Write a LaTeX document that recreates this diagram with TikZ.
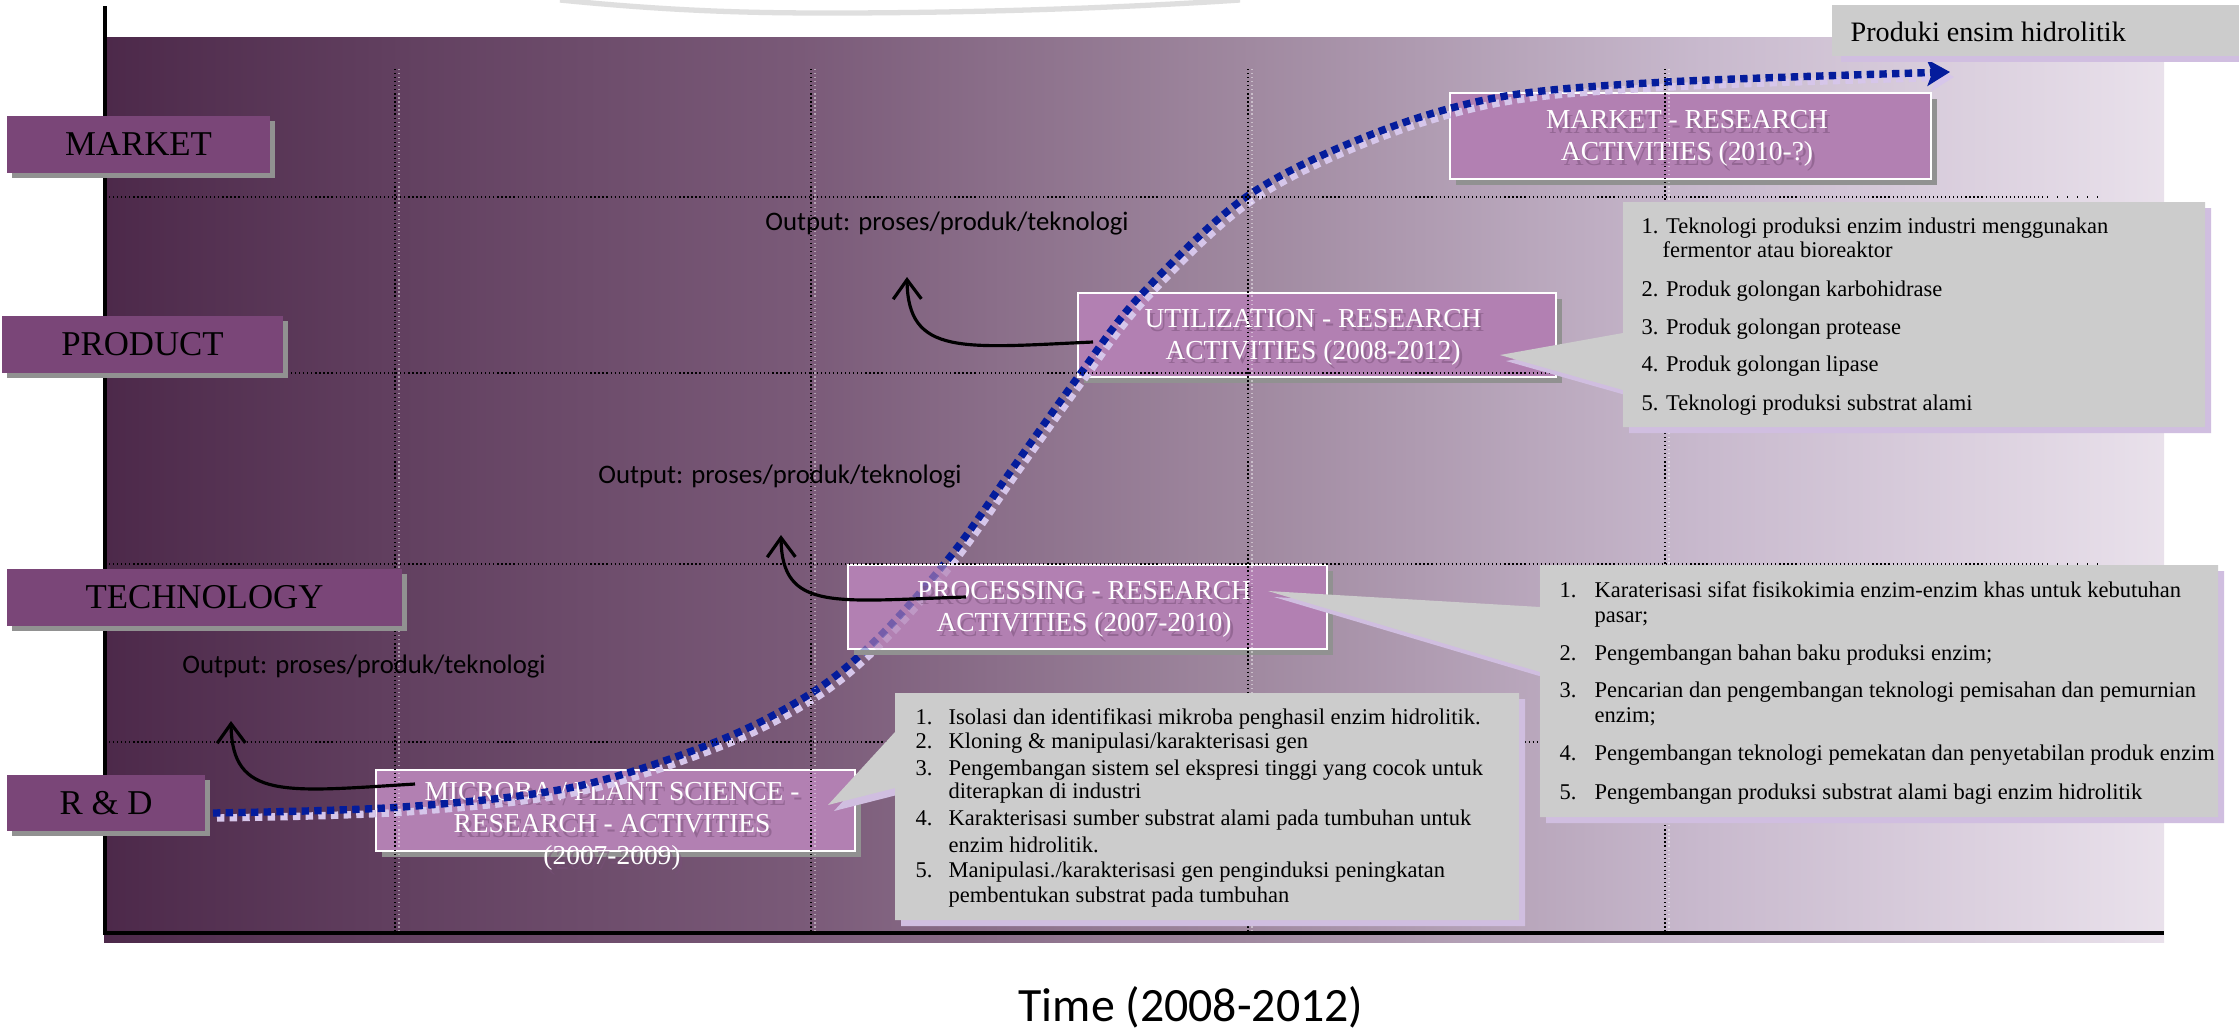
\documentclass[tikz,border=0pt]{standalone}
\usepackage{fontspec}
\setmainfont{Liberation Serif}
\newfontfamily\calib{Carlito}
\usetikzlibrary{arrows.meta,shadows}
\definecolor{labfill}{RGB}{122,70,120}
\definecolor{actfill}{RGB}{178,128,178}
\definecolor{callgray}{RGB}{204,204,204}
\definecolor{lavshadow}{RGB}{208,190,224}
\definecolor{boxshadow}{RGB}{145,145,145}
\definecolor{curveblue}{RGB}{4,28,156}
\definecolor{curveshadow}{RGB}{214,198,234}
\definecolor{ghost}{RGB}{120,80,120}
\pgfdeclarehorizontalshading{bgshade}{100bp}{rgb(0bp)=(0.30,0.16,0.29); rgb(25bp)=(0.30,0.16,0.29); rgb(32.2bp)=(0.384,0.251,0.376); rgb(41.9bp)=(0.478,0.353,0.471); rgb(52.8bp)=(0.627,0.537,0.627); rgb(63.75bp)=(0.784,0.725,0.804); rgb(75bp)=(0.914,0.882,0.922); rgb(100bp)=(0.914,0.882,0.922)}
\newcommand\mycurve{plot[smooth,tension=0.55] coordinates {(213,813) (402,807) (574,787) (718,741) (813,692) (880,636) (953,553) (1015,465) (1078,377) (1139,297) (1246,197) (1370,135) (1500,97) (1666,82) (1950,72)}}
\newcommand\mycallout[8]{%
 \begin{scope}[shift={(6,6)}]\fill[lavshadow] (#1,#2) -- (#3,#2) -- (#3,#4) -- (#1,#4) -- (#1,#6) -- (#7,#8) -- (#1,#5) -- cycle;\end{scope}
 \fill[callgray] (#1,#2) -- (#3,#2) -- (#3,#4) -- (#1,#4) -- (#1,#6) -- (#7,#8) -- (#1,#5) -- cycle;}
\begin{document}
\begin{tikzpicture}[x=0.01cm,y=-0.01cm,
 lab/.style={fill=labfill,inner sep=0pt,text=black,font=\fontsize{9.9pt}{11pt}\selectfont,drop shadow={shadow xshift=0.05cm,shadow yshift=-0.05cm,fill=boxshadow,opacity=1}},
 act/.style={fill=actfill,draw=white,line width=0.6pt,inner sep=0pt,drop shadow={shadow xshift=0.06cm,shadow yshift=-0.06cm,fill=boxshadow,opacity=1}},
 acttext/.style={text=white,align=center,inner sep=0pt,font=\fontsize{7.8pt}{9.1pt}\selectfont},
 actghost/.style={acttext,text=ghost,text opacity=0.5},
 gridl/.style={black,line width=0.35pt,dash pattern=on 0.35pt off 0.8pt},
 gridw/.style={white,opacity=0.45,line width=0.35pt,dash pattern=on 0.35pt off 0.8pt},
 outt/.style={inner sep=0pt,text=black,font=\calib\fontsize{7.6pt}{9pt}\selectfont},
 outarrow/.style={black,line width=0.9pt,-{Straight Barb[length=5.5pt,width=8pt]}},
 ct/.style={anchor=base west,inner sep=0pt,text=black,font=\fontsize{6.4pt}{7.7pt}\selectfont},
 curvemain/.style={curveblue,line width=2.1pt,dash pattern=on 2.1pt off 1.5pt,-{Stealth[length=6.5pt,width=7.5pt,inset=1.5pt]}},
 curveshad/.style={curveshadow,line width=2.1pt,dash pattern=on 2.1pt off 1.5pt,-{Stealth[length=6.5pt,width=7.5pt,inset=1.5pt]}}
]
\useasboundingbox (0,0) rectangle (2239,1033);
\fill[white] (0,0) rectangle (2239,1033);
% faint arc at top
\draw[gray!25,line width=1.5pt] (560,0) .. controls (680,12) and (760,13) .. (830,13) .. controls (1000,13) and (1150,6) .. (1240,0);
% background
\shade[shading=bgshade] (104,37) rectangle (2164,942);
% activity boxes under the curve
\node[act,minimum width=4.79cm,minimum height=0.81cm] (mic) at (615.5,810.5) {};
\node[act,minimum width=4.78cm,minimum height=0.84cm] (util) at (1317,335) {};
\node[act,minimum width=4.81cm,minimum height=0.86cm] (mkt) at (1690.5,136) {};
\node[actghost] at (615,831) {MICROBA / PLANT SCIENCE -\\RESEARCH - ACTIVITIES\\(2007-2009)};
\node[acttext] (mict) at (612,826) {MICROBA / PLANT SCIENCE -\\RESEARCH - ACTIVITIES\\(2007-2009)};
\node[actghost] at (1316,341) {UTILIZATION - RESEARCH\\ACTIVITIES (2008-2012)};
\node[acttext] (utilt) at (1313,337) {UTILIZATION - RESEARCH\\ACTIVITIES (2008-2012)};
\node[actghost] at (1690,143) {MARKET - RESEARCH\\ACTIVITIES (2010-?)};
\node[acttext] (mktt) at (1687,138) {MARKET - RESEARCH\\ACTIVITIES (2010-?)};
% S-curve
\begin{scope}[shift={(4,5)}]\draw[curveshad] \mycurve;\end{scope}
\draw[curvemain] \mycurve;
% processing box over the curve
\node[act,minimum width=4.79cm,minimum height=0.84cm] (proc) at (1087.5,607) {};
\begin{scope}
\clip (848,565) rectangle (1327,649);
\begin{scope}[shift={(4,5)}]\draw[curveshad,opacity=0.35] \mycurve;\end{scope}
\draw[curvemain,opacity=0.35] \mycurve;
\end{scope}
\node[actghost] at (1087,614) {PROCESSING - RESEARCH\\ACTIVITIES (2007-2010)};
\node[acttext] (proct) at (1084,609) {PROCESSING - RESEARCH\\ACTIVITIES (2007-2010)};
% grid
\foreach \gx in {395,811,1248,1665} {
 \draw[gridw] (\gx+4,69) -- (\gx+4,933);
 \draw[gridl] (\gx,69) -- (\gx,933);}
\foreach \gy in {197,373,564,742} {
 \draw[gridl] (105,\gy) -- (2044,\gy);
 \draw[black,line width=0.35pt,dash pattern=on 0.35pt off 2.5pt] (2047,\gy) -- (2104,\gy);}
% axes
\draw[black,line width=1pt] (105,6) -- (105,933) -- (2164,933);
% level labels
\node[lab,minimum width=2.63cm,minimum height=0.57cm] (lmkt) at (138.5,144.5) {MARKET};
\node[lab,minimum width=2.81cm,minimum height=0.57cm] (lprod) at (142.5,344.5) {PRODUCT};
\node[lab,minimum width=3.95cm,minimum height=0.57cm] (ltech) at (204.5,597.5) {TECHNOLOGY};
\node[lab,minimum width=1.98cm,minimum height=0.56cm] (lrd) at (106,803) {R \& D};
% output texts
\node[outt] (o1) at (364,667) {Output: proses/produk/teknologi};
\node[outt] (o2) at (780,477) {Output: proses/produk/teknologi};
\node[outt] (o3) at (947,224) {Output: proses/produk/teknologi};
% output arrows
\coordinate (a1s) at (415,784); \coordinate (a1e) at (231,721);
\coordinate (a2s) at (966,597); \coordinate (a2e) at (781,535);
\coordinate (a3s) at (1093,342); \coordinate (a3e) at (907,277);
\draw[outarrow] (a1s) .. controls (285,792) and (232,800) .. (a1e);
\draw[outarrow] (a2s) .. controls (835,601) and (782,612) .. (a2e);
\draw[outarrow] (a3s) .. controls (962,348) and (908,356) .. (a3e);
% callouts
\mycallout{895}{693}{1519}{920}{732}{788}{828}{805}
\mycallout{1540}{565}{2218}{817}{607}{672}{1268}{591}
\mycallout{1623}{202}{2205}{427}{333}{390}{1500}{355}
% list 1
\node[ct] at (915,724) {1.}; \node[ct] (l11) at (948,724) {Isolasi dan identifikasi mikroba penghasil enzim hidrolitik.};
\node[ct] at (915,748) {2.}; \node[ct] (l12) at (948,748) {Kloning \& manipulasi/karakterisasi gen};
\node[ct] at (915,775) {3.}; \node[ct] (l13) at (948,775) {Pengembangan sistem sel ekspresi tinggi yang cocok untuk};
\node[ct] at (948,798) {diterapkan di industri};
\node[ct] at (915,825) {4.}; \node[ct] (l14) at (948,825) {Karakterisasi sumber substrat alami pada tumbuhan untuk};
\node[ct] at (948,852) {enzim hidrolitik.};
\node[ct] at (915,877) {5.}; \node[ct] (l15) at (948,877) {Manipulasi./karakterisasi gen penginduksi peningkatan};
\node[ct] at (948,902) {pembentukan substrat pada tumbuhan};
% list 2
\node[ct] at (1559,597) {1.}; \node[ct] (l21) at (1594,597) {Karaterisasi sifat fisikokimia enzim-enzim khas untuk kebutuhan};
\node[ct] at (1594,622) {pasar;};
\node[ct] at (1559,660) {2.}; \node[ct] (l22) at (1594,660) {Pengembangan bahan baku produksi enzim;};
\node[ct] at (1559,697) {3.}; \node[ct] (l23) at (1594,697) {Pencarian dan pengembangan teknologi pemisahan dan pemurnian};
\node[ct] at (1594,722) {enzim;};
\node[ct] at (1559,760) {4.}; \node[ct] (l24) at (1594,760) {Pengembangan teknologi pemekatan dan penyetabilan produk enzim};
\node[ct] at (1559,799) {5.}; \node[ct] (l25) at (1594,799) {Pengembangan produksi substrat alami bagi enzim hidrolitik};
% list 3
\node[ct] (l31) at (1641,233) {1. Teknologi produksi enzim industri menggunakan};
\node[ct] at (1662,257) {fermentor atau bioreaktor};
\node[ct] (l32) at (1641,296) {2. Produk golongan karbohidrase};
\node[ct] (l33) at (1641,334) {3. Produk golongan protease};
\node[ct] (l34) at (1641,371) {4. Produk golongan lipase};
\node[ct] (l35) at (1641,410) {5. Teknologi produksi substrat alami};
% top right box
\fill[lavshadow] (1841,10) rectangle (2239,62);
\node[fill=callgray,inner sep=0pt,minimum width=4.08cm,minimum height=0.51cm,anchor=north west] (prodbox) at (1831,4) {};
\node[anchor=base west,inner sep=0pt,font=\fontsize{8pt}{9pt}\selectfont] (prodt) at (1850,41) {Produki ensim hidrolitik};
% time axis label
\node[inner sep=0pt,font=\calib\fontsize{13.6pt}{15pt}\selectfont] (time) at (1191,1007) {Time (2008-2012)};
\end{tikzpicture}
\end{document}
